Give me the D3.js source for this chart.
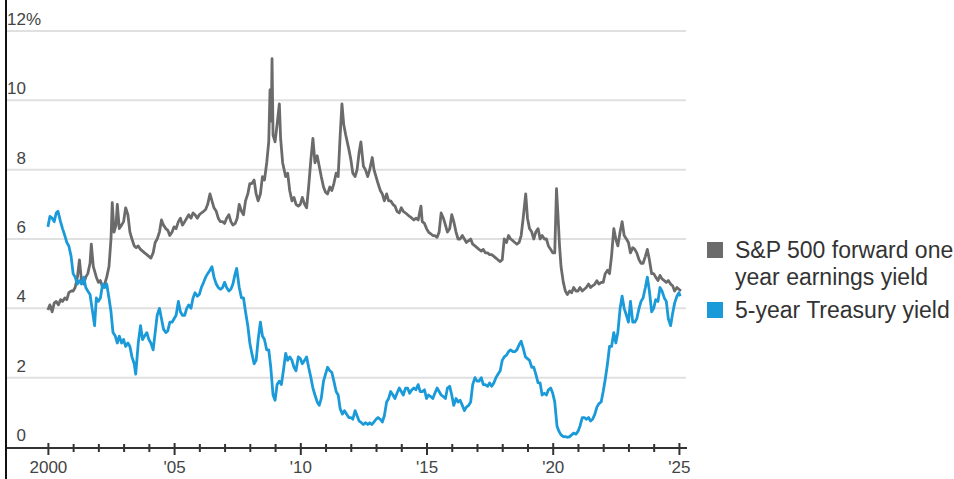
<!DOCTYPE html>
<html>
<head>
<meta charset="utf-8">
<script src="https://cdn.jsdelivr.net/npm/d3@7"></script>
<style>
  html, body { margin: 0; padding: 0; background: #fff; }
  svg { display: block; }
  .axis text { font-family: 'Liberation Sans', Arial, sans-serif; }
</style>
</head>
<body>
<div id="chart"></div>
<script>
// S&P 500 forward one-year earnings yield, %
const spEarningsYield = [
  [2000.00, 3.95], [2000.08, 4.1], [2000.17, 3.9], [2000.25, 4.15], [2000.33, 4.2], [2000.42, 4.1],
  [2000.50, 4.25], [2000.58, 4.2], [2000.67, 4.3], [2000.75, 4.25], [2000.83, 4.45], [2000.92, 4.5],
  [2001.00, 4.5], [2001.08, 4.6], [2001.17, 4.9], [2001.25, 5.4], [2001.33, 4.8], [2001.42, 4.7],
  [2001.50, 4.9], [2001.58, 5.0], [2001.67, 5.3], [2001.72, 5.85], [2001.80, 5.2], [2001.92, 4.9],
  [2002.00, 4.75], [2002.08, 4.8], [2002.17, 4.6], [2002.25, 4.7], [2002.33, 4.9], [2002.42, 5.2],
  [2002.50, 6.0], [2002.55, 7.05], [2002.62, 6.2], [2002.70, 6.4], [2002.75, 7.0], [2002.83, 6.3],
  [2002.92, 6.4], [2003.00, 6.5], [2003.08, 6.9], [2003.17, 6.7], [2003.25, 6.2], [2003.33, 6.0],
  [2003.42, 5.8], [2003.50, 5.75], [2003.58, 5.8], [2003.67, 5.7], [2003.75, 5.65], [2003.83, 5.6],
  [2003.92, 5.55], [2004.00, 5.5], [2004.08, 5.45], [2004.17, 5.6], [2004.25, 5.9], [2004.33, 6.0],
  [2004.42, 6.2], [2004.50, 6.55], [2004.58, 6.4], [2004.67, 6.3], [2004.75, 6.25], [2004.83, 6.1],
  [2004.92, 6.2], [2005.00, 6.35], [2005.08, 6.3], [2005.17, 6.5], [2005.25, 6.6], [2005.33, 6.4],
  [2005.42, 6.5], [2005.50, 6.6], [2005.58, 6.7], [2005.67, 6.6], [2005.75, 6.75], [2005.83, 6.7],
  [2005.92, 6.6], [2006.00, 6.7], [2006.08, 6.75], [2006.17, 6.8], [2006.25, 6.85], [2006.33, 7.0],
  [2006.42, 7.3], [2006.50, 7.1], [2006.58, 6.9], [2006.67, 6.8], [2006.75, 6.6], [2006.83, 6.5],
  [2006.92, 6.5], [2007.00, 6.45], [2007.08, 6.6], [2007.17, 6.7], [2007.25, 6.5], [2007.33, 6.4],
  [2007.42, 6.45], [2007.50, 6.6], [2007.58, 7.0], [2007.67, 6.8], [2007.75, 6.7], [2007.83, 7.1],
  [2007.92, 7.3], [2008.00, 7.6], [2008.08, 7.6], [2008.17, 7.7], [2008.25, 7.3], [2008.33, 7.1],
  [2008.42, 7.3], [2008.50, 7.8], [2008.58, 7.7], [2008.67, 8.2], [2008.75, 8.8], [2008.80, 10.3],
  [2008.85, 9.4], [2008.88, 11.2], [2008.92, 9.0], [2009.00, 8.8], [2009.08, 9.3], [2009.17, 9.9],
  [2009.22, 8.9], [2009.30, 8.2], [2009.42, 7.8], [2009.50, 7.9], [2009.58, 7.4], [2009.67, 7.1],
  [2009.75, 7.2], [2009.83, 7.0], [2009.92, 6.95], [2010.00, 7.0], [2010.08, 7.2], [2010.17, 7.0],
  [2010.25, 6.9], [2010.33, 7.5], [2010.42, 8.3], [2010.50, 8.9], [2010.58, 8.2], [2010.67, 8.4],
  [2010.75, 8.1], [2010.83, 7.8], [2010.92, 7.5], [2011.00, 7.35], [2011.08, 7.3], [2011.17, 7.5],
  [2011.25, 7.4], [2011.33, 7.6], [2011.42, 7.9], [2011.50, 7.8], [2011.58, 9.0], [2011.65, 9.9],
  [2011.72, 9.3], [2011.80, 9.0], [2011.92, 8.6], [2012.00, 8.3], [2012.08, 7.9], [2012.17, 7.8],
  [2012.25, 8.0], [2012.33, 8.5], [2012.40, 8.8], [2012.50, 8.1], [2012.58, 8.0], [2012.67, 7.8],
  [2012.75, 8.0], [2012.85, 8.35], [2012.92, 8.0], [2013.00, 7.8], [2013.08, 7.6], [2013.17, 7.4],
  [2013.25, 7.3], [2013.33, 7.1], [2013.42, 7.3], [2013.50, 7.1], [2013.58, 7.1], [2013.67, 7.0],
  [2013.75, 6.95], [2013.83, 6.8], [2013.92, 6.75], [2014.00, 6.9], [2014.08, 6.8], [2014.17, 6.75],
  [2014.25, 6.7], [2014.33, 6.65], [2014.42, 6.6], [2014.50, 6.55], [2014.58, 6.6], [2014.67, 6.55],
  [2014.78, 6.95], [2014.83, 6.5], [2014.92, 6.45], [2015.00, 6.3], [2015.08, 6.2], [2015.17, 6.15],
  [2015.25, 6.1], [2015.33, 6.1], [2015.42, 6.05], [2015.50, 6.2], [2015.58, 6.75], [2015.67, 6.6],
  [2015.75, 6.4], [2015.83, 6.2], [2015.92, 6.3], [2016.00, 6.7], [2016.08, 6.5], [2016.17, 6.2],
  [2016.25, 6.0], [2016.33, 6.0], [2016.42, 6.1], [2016.50, 6.0], [2016.58, 5.9], [2016.67, 5.95],
  [2016.75, 6.0], [2016.83, 5.85], [2016.92, 5.8], [2017.00, 5.75], [2017.08, 5.7], [2017.17, 5.65],
  [2017.25, 5.7], [2017.33, 5.6], [2017.42, 5.6], [2017.50, 5.55], [2017.58, 5.55], [2017.67, 5.5],
  [2017.75, 5.45], [2017.83, 5.4], [2017.92, 5.35], [2018.00, 5.4], [2018.08, 6.0], [2018.17, 5.9],
  [2018.25, 6.1], [2018.33, 6.0], [2018.42, 5.95], [2018.50, 5.9], [2018.58, 5.85], [2018.67, 5.9],
  [2018.75, 6.1], [2018.83, 6.6], [2018.93, 7.3], [2019.00, 6.6], [2019.08, 6.3], [2019.17, 6.2],
  [2019.25, 6.0], [2019.33, 6.2], [2019.42, 6.3], [2019.50, 6.0], [2019.58, 6.1], [2019.67, 6.0],
  [2019.75, 6.0], [2019.83, 5.8], [2019.92, 5.7], [2020.00, 5.6], [2020.08, 5.6], [2020.15, 7.45],
  [2020.20, 6.8], [2020.27, 5.8], [2020.33, 5.2], [2020.42, 4.75], [2020.50, 4.5], [2020.58, 4.4],
  [2020.67, 4.5], [2020.75, 4.45], [2020.83, 4.6], [2020.92, 4.5], [2021.00, 4.5], [2021.08, 4.6],
  [2021.17, 4.5], [2021.25, 4.55], [2021.33, 4.6], [2021.42, 4.7], [2021.50, 4.6], [2021.58, 4.65],
  [2021.67, 4.7], [2021.75, 4.8], [2021.83, 4.7], [2021.92, 4.75], [2022.00, 4.75], [2022.08, 5.0],
  [2022.17, 5.1], [2022.25, 5.0], [2022.33, 5.5], [2022.42, 6.3], [2022.50, 6.0], [2022.58, 5.8],
  [2022.67, 6.2], [2022.75, 6.5], [2022.83, 6.1], [2022.92, 6.0], [2023.00, 5.9], [2023.08, 5.6],
  [2023.17, 5.75], [2023.25, 5.7], [2023.33, 5.6], [2023.42, 5.4], [2023.50, 5.3], [2023.58, 5.3],
  [2023.67, 5.5], [2023.75, 5.7], [2023.83, 5.4], [2023.92, 5.0], [2024.00, 5.0], [2024.08, 4.9],
  [2024.17, 4.8], [2024.25, 4.95], [2024.33, 4.85], [2024.42, 4.8], [2024.50, 4.75], [2024.58, 4.8],
  [2024.67, 4.7], [2024.75, 4.65], [2024.83, 4.5], [2024.92, 4.6], [2025.00, 4.55], [2025.08, 4.5]
]

// 5-year Treasury yield, %
const treasury5y = [
  [2000.00, 6.35], [2000.08, 6.65], [2000.17, 6.6], [2000.25, 6.5], [2000.33, 6.75], [2000.40, 6.8],
  [2000.50, 6.5], [2000.58, 6.3], [2000.67, 6.1], [2000.75, 5.9], [2000.83, 5.8], [2000.92, 5.5],
  [2001.00, 5.0], [2001.08, 4.9], [2001.17, 4.7], [2001.25, 4.8], [2001.33, 4.7], [2001.42, 4.9],
  [2001.50, 4.6], [2001.58, 4.5], [2001.67, 4.4], [2001.75, 4.0], [2001.85, 3.5], [2001.92, 4.3],
  [2002.00, 4.2], [2002.08, 4.3], [2002.17, 4.7], [2002.25, 4.6], [2002.33, 4.7], [2002.42, 4.3],
  [2002.50, 3.9], [2002.58, 3.3], [2002.67, 3.2], [2002.75, 3.0], [2002.83, 3.2], [2002.92, 3.0],
  [2003.00, 3.1], [2003.08, 2.9], [2003.17, 3.0], [2003.25, 2.9], [2003.33, 2.6], [2003.42, 2.4],
  [2003.48, 2.1], [2003.58, 3.0], [2003.67, 3.5], [2003.75, 3.1], [2003.83, 3.2], [2003.92, 3.3],
  [2004.00, 3.1], [2004.08, 3.0], [2004.17, 2.8], [2004.25, 3.3], [2004.33, 3.8], [2004.42, 4.0],
  [2004.50, 3.7], [2004.58, 3.4], [2004.67, 3.3], [2004.75, 3.35], [2004.83, 3.6], [2004.92, 3.6],
  [2005.00, 3.7], [2005.08, 3.8], [2005.17, 4.2], [2005.25, 3.9], [2005.33, 3.8], [2005.42, 3.8],
  [2005.50, 4.0], [2005.58, 4.1], [2005.67, 4.0], [2005.75, 4.3], [2005.83, 4.45], [2005.92, 4.35],
  [2006.00, 4.4], [2006.08, 4.6], [2006.17, 4.75], [2006.25, 4.9], [2006.33, 5.0], [2006.42, 5.1],
  [2006.50, 5.2], [2006.58, 4.9], [2006.67, 4.7], [2006.75, 4.6], [2006.83, 4.55], [2006.92, 4.6],
  [2007.00, 4.75], [2007.08, 4.6], [2007.17, 4.5], [2007.25, 4.55], [2007.33, 4.7], [2007.42, 5.0],
  [2007.48, 5.15], [2007.58, 4.6], [2007.67, 4.3], [2007.75, 4.3], [2007.83, 3.9], [2007.92, 3.5],
  [2008.00, 3.0], [2008.08, 2.7], [2008.17, 2.4], [2008.25, 2.5], [2008.33, 3.1], [2008.42, 3.6],
  [2008.50, 3.2], [2008.58, 3.1], [2008.67, 2.8], [2008.75, 2.8], [2008.83, 2.3], [2008.92, 1.5],
  [2009.00, 1.35], [2009.08, 1.8], [2009.17, 1.9], [2009.25, 1.8], [2009.33, 2.2], [2009.42, 2.7],
  [2009.50, 2.5], [2009.58, 2.6], [2009.67, 2.5], [2009.75, 2.3], [2009.83, 2.2], [2009.92, 2.6],
  [2010.00, 2.55], [2010.08, 2.4], [2010.17, 2.5], [2010.25, 2.6], [2010.33, 2.3], [2010.42, 2.0],
  [2010.50, 1.7], [2010.58, 1.5], [2010.67, 1.3], [2010.75, 1.2], [2010.83, 1.4], [2010.92, 1.9],
  [2011.00, 2.1], [2011.08, 2.3], [2011.17, 2.2], [2011.25, 2.15], [2011.33, 1.9], [2011.42, 1.6],
  [2011.50, 1.5], [2011.58, 1.1], [2011.67, 0.95], [2011.75, 1.05], [2011.83, 0.95], [2011.92, 0.85],
  [2012.00, 0.85], [2012.08, 0.8], [2012.17, 1.05], [2012.25, 0.9], [2012.33, 0.75], [2012.42, 0.7],
  [2012.50, 0.65], [2012.58, 0.7], [2012.67, 0.65], [2012.75, 0.7], [2012.83, 0.65], [2012.92, 0.72],
  [2013.00, 0.8], [2013.08, 0.85], [2013.17, 0.8], [2013.25, 0.72], [2013.33, 0.9], [2013.42, 1.3],
  [2013.50, 1.4], [2013.58, 1.6], [2013.67, 1.5], [2013.75, 1.4], [2013.83, 1.55], [2013.92, 1.7],
  [2014.00, 1.6], [2014.08, 1.5], [2014.17, 1.7], [2014.25, 1.7], [2014.33, 1.55], [2014.42, 1.65],
  [2014.50, 1.7], [2014.58, 1.65], [2014.67, 1.8], [2014.75, 1.6], [2014.83, 1.6], [2014.92, 1.65],
  [2015.00, 1.4], [2015.08, 1.5], [2015.17, 1.45], [2015.25, 1.4], [2015.33, 1.55], [2015.42, 1.7],
  [2015.50, 1.6], [2015.58, 1.5], [2015.67, 1.45], [2015.75, 1.4], [2015.83, 1.7], [2015.92, 1.75],
  [2016.00, 1.5], [2016.08, 1.2], [2016.17, 1.4], [2016.25, 1.3], [2016.33, 1.35], [2016.42, 1.2],
  [2016.50, 1.05], [2016.58, 1.15], [2016.67, 1.2], [2016.75, 1.3], [2016.83, 1.8], [2016.92, 2.0],
  [2017.00, 1.9], [2017.08, 1.9], [2017.17, 2.0], [2017.25, 1.8], [2017.33, 1.8], [2017.42, 1.75],
  [2017.50, 1.85], [2017.58, 1.75], [2017.67, 1.85], [2017.75, 2.0], [2017.83, 2.1], [2017.92, 2.2],
  [2018.00, 2.5], [2018.08, 2.6], [2018.17, 2.65], [2018.25, 2.75], [2018.33, 2.8], [2018.42, 2.75],
  [2018.50, 2.75], [2018.58, 2.8], [2018.67, 2.95], [2018.75, 3.05], [2018.83, 2.85], [2018.92, 2.6],
  [2019.00, 2.55], [2019.08, 2.5], [2019.17, 2.3], [2019.25, 2.3], [2019.33, 2.1], [2019.42, 1.85],
  [2019.50, 1.85], [2019.58, 1.5], [2019.67, 1.55], [2019.75, 1.5], [2019.83, 1.65], [2019.92, 1.7],
  [2020.00, 1.55], [2020.08, 1.3], [2020.17, 0.6], [2020.25, 0.45], [2020.33, 0.35], [2020.42, 0.3],
  [2020.50, 0.3], [2020.58, 0.28], [2020.67, 0.3], [2020.75, 0.35], [2020.83, 0.4], [2020.92, 0.37],
  [2021.00, 0.45], [2021.08, 0.6], [2021.17, 0.85], [2021.25, 0.85], [2021.33, 0.8], [2021.42, 0.85],
  [2021.50, 0.75], [2021.58, 0.8], [2021.67, 0.95], [2021.75, 1.15], [2021.83, 1.25], [2021.92, 1.3],
  [2022.00, 1.6], [2022.08, 1.95], [2022.17, 2.4], [2022.25, 2.9], [2022.33, 2.9], [2022.42, 3.3],
  [2022.50, 3.0], [2022.58, 3.3], [2022.67, 4.0], [2022.75, 4.35], [2022.83, 4.0], [2022.92, 3.8],
  [2023.00, 3.6], [2023.08, 4.2], [2023.17, 3.6], [2023.25, 3.6], [2023.33, 3.7], [2023.42, 4.0],
  [2023.50, 4.2], [2023.58, 4.3], [2023.67, 4.6], [2023.75, 4.9], [2023.83, 4.5], [2023.92, 3.9],
  [2024.00, 4.0], [2024.08, 4.25], [2024.17, 4.2], [2024.25, 4.6], [2024.33, 4.5], [2024.42, 4.3],
  [2024.50, 4.2], [2024.58, 3.7], [2024.67, 3.5], [2024.75, 3.85], [2024.83, 4.15], [2024.92, 4.35],
  [2025.00, 4.45], [2025.05, 4.35]
]

const yTicks = [0, 2, 4, 6, 8, 10, 12]
const xTickYears = d3.range(2000, 2026)
const xLabelYears = [2000, 2005, 2010, 2015, 2020, 2025]
const xLabels = ['2000', "'05", "'10", "'15", "'20", "'25"]
const legendLines = [['S&P 500 forward one', 'year earnings yield'], ['5-year Treasury yield']]

const width = 954
const height = 479
const grey = '#6b6b6b'
const blue = '#1a9ad8'

const svg = d3
  .select('#chart')
  .append('svg')
  .attr('width', width)
  .attr('height', height)

const xPositionScale = d3.scaleLinear().domain([1998.38, 2025.32]).range([7, 687])
const yPositionScale = d3.scaleLinear().domain([0, 12]).range([447, 31])

// gridlines
svg
  .selectAll('.grid')
  .data(yTicks.filter(d => d > 0))
  .enter()
  .append('line')
  .attr('class', 'grid')
  .attr('x1', 7)
  .attr('x2', 686)
  .attr('y1', d => yPositionScale(d))
  .attr('y2', d => yPositionScale(d))
  .attr('stroke', '#e0e0e0')
  .attr('stroke-width', 2)

// y labels sit just above their gridline
svg
  .selectAll('.y-label')
  .data(yTicks)
  .enter()
  .append('text')
  .attr('class', 'y-label')
  .attr('x', d => (d === 12 ? 7 : 26))
  .attr('y', d => yPositionScale(d) - 6)
  .attr('text-anchor', d => (d === 12 ? 'start' : 'end'))
  .attr('font-family', "'Liberation Sans', Arial, sans-serif")
  .attr('font-size', 17)
  .attr('fill', '#444')
  .text(d => (d === 12 ? '12%' : d))

const line = d3
  .line()
  .x(d => xPositionScale(d[0]))
  .y(d => yPositionScale(d[1]))

svg
  .append('path')
  .datum(spEarningsYield)
  .attr('d', line)
  .attr('fill', 'none')
  .attr('stroke', grey)
  .attr('stroke-width', 2.8)
  .attr('stroke-linejoin', 'round')

svg
  .append('path')
  .datum(treasury5y)
  .attr('d', line)
  .attr('fill', 'none')
  .attr('stroke', blue)
  .attr('stroke-width', 2.8)
  .attr('stroke-linejoin', 'round')

// x axis
const xAxis = d3
  .axisBottom(xPositionScale)
  .tickValues(xTickYears)
  .tickSize(6)
  .tickFormat(d => {
    const i = xLabelYears.indexOf(d)
    return i >= 0 ? xLabels[i] : ''
  })

const xAxisG = svg
  .append('g')
  .attr('class', 'axis x-axis')
  .attr('transform', 'translate(0,448)')
  .call(xAxis)

xAxisG.select('.domain').remove()
xAxisG
  .append('line')
  .attr('x1', 7)
  .attr('x2', 687)
  .attr('stroke', '#333')
  .attr('stroke-width', 2)
xAxisG
  .selectAll('.tick line')
  .attr('y1', d => (xLabelYears.includes(d) ? -5 : -4))
  .attr('y2', d => (xLabelYears.includes(d) ? 7 : 4))
  .attr('stroke', '#333')
  .attr('stroke-width', 2)
xAxisG
  .selectAll('.tick text')
  .attr('y', 13)
  .attr('dy', '0.71em')
  .attr('font-size', 17)
  .attr('fill', '#444')

// left frame line
svg
  .append('line')
  .attr('x1', 6)
  .attr('x2', 6)
  .attr('y1', 0)
  .attr('y2', height)
  .attr('stroke', '#111')
  .attr('stroke-width', 2)

// legend
const legend = svg.append('g').attr('transform', 'translate(707,0)')
const legendColors = [grey, blue]
const legendTop = [242, 302]

legendLines.forEach((lines, i) => {
  legend
    .append('rect')
    .attr('x', 0)
    .attr('y', legendTop[i])
    .attr('width', 16)
    .attr('height', 16)
    .attr('fill', legendColors[i])
  lines.forEach((t, j) => {
    legend
      .append('text')
      .attr('x', 28)
      .attr('y', legendTop[i] + 16 + j * 27)
      .attr('font-family', "'Liberation Sans', Arial, sans-serif")
      .attr('font-size', 23)
      .attr('fill', '#333')
      .text(t)
  })
})
</script>
</body>
</html>
